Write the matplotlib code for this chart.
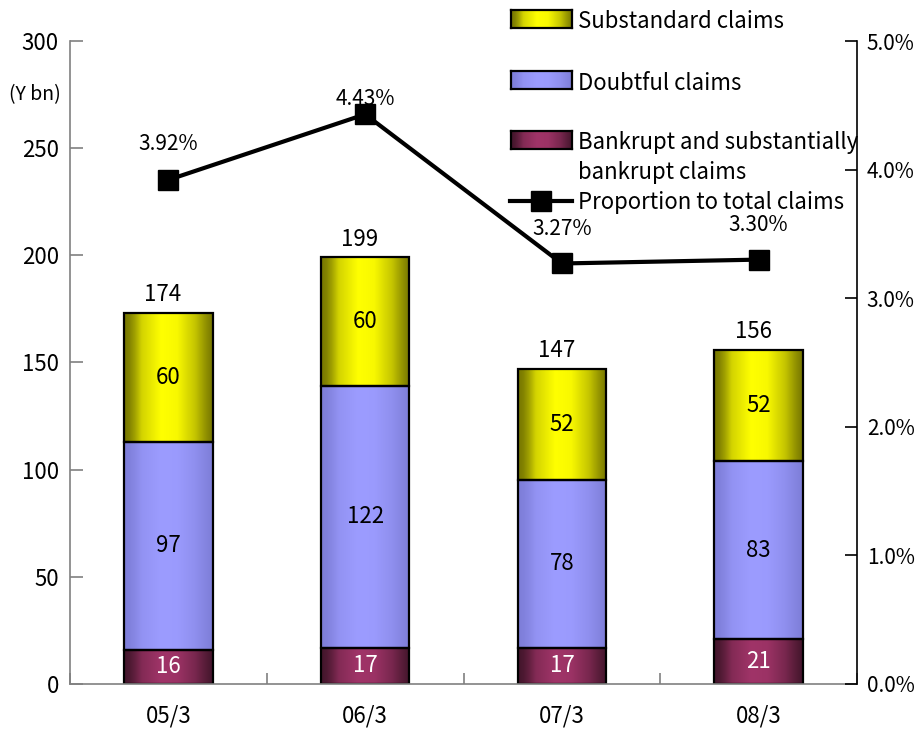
import numpy as np
import matplotlib
matplotlib.use("Agg")
import matplotlib.pyplot as plt
from matplotlib.colors import LinearSegmentedColormap
from matplotlib.lines import Line2D

plt.rcParams['font.family'] = ['Noto Sans CJK JP', 'DejaVu Sans']

periods = ['05/3', '06/3', '07/3', '08/3']
bankrupt = [16, 17, 17, 21]
doubtful = [97, 122, 78, 83]
substandard = [60, 60, 52, 52]
totals = [174, 199, 147, 156]
ratio = [3.92, 4.43, 3.27, 3.30]

# edge colour, centre colour for the horizontal shading of each segment
shades = {
    'sub': ('#6e6e00', '#ffff00'),
    'dbt': ('#7c7cd6', '#9c9cff'),
    'bkr': ('#3e1428', '#a03468'),
}
profile_x = [0.0, 0.06, 0.12, 0.2, 0.42, 0.6, 0.8, 0.92, 1.0]
profile_v = [0.05, 0.15, 0.35, 0.7, 1.0, 0.95, 0.6, 0.25, 0.05]
strip = np.interp(np.linspace(0, 1, 200), profile_x, profile_v)[None, :]


def shade_cmap(key):
    return LinearSegmentedColormap.from_list(key, list(shades[key]))


def fill_gradient(ax, patch, key):
    x, y = patch.get_x(), patch.get_y()
    w, h = patch.get_width(), patch.get_height()
    ax.imshow(strip, cmap=shade_cmap(key), vmin=0, vmax=1, aspect='auto',
              extent=(x, x + w, y, y + h), origin='lower', zorder=1,
              interpolation='bilinear')


fig = plt.figure(figsize=(9.23, 7.34), dpi=100)
ax = fig.add_axes([70 / 923, 1 - 684 / 734, 787 / 923, 643 / 734])

x = np.arange(len(periods))
width = 0.45
bottom2 = np.array(bankrupt)
bottom3 = bottom2 + np.array(doubtful)
layers = [
    (bankrupt, 0, 'bkr', 'white'),
    (doubtful, bottom2, 'dbt', 'black'),
    (substandard, bottom3, 'sub', 'black'),
]
for vals, base, key, tcol in layers:
    bars = ax.bar(x, vals, width, bottom=base, facecolor='none',
                  edgecolor='black', linewidth=1.6, zorder=2)
    for p, v in zip(bars, vals):
        fill_gradient(ax, p, key)
        ax.text(p.get_x() + p.get_width() / 2, p.get_y() + p.get_height() / 2,
                str(v), ha='center', va='center', fontsize=16, color=tcol,
                zorder=3)

for xi, top, t in zip(x, bottom3 + np.array(substandard), totals):
    ax.annotate(str(t), (xi, top), xytext=(-4, 5), textcoords='offset points',
                ha='center', va='bottom', fontsize=16)

ax.set_xlim(-0.5, 3.5)
ax.set_ylim(0, 300)
ax.set_yticks(range(0, 301, 50))
ax.set_xticks(x)
ax.set_xticklabels(periods, fontsize=16)
ax.set_xticks(np.arange(-0.5, 4, 1), minor=True)
ax.tick_params(axis='x', which='major', length=0, pad=15)
ax.tick_params(axis='x', which='minor', length=8, direction='in',
               color='#808080', width=1.2)
ax.tick_params(axis='y', direction='in', length=9, color='#808080',
               width=1.2, labelsize=16, pad=8)
for s in ('top', 'right'):
    ax.spines[s].set_visible(False)
ax.spines['left'].set_color('#808080')
ax.spines['bottom'].set_color('#808080')
ax.spines['left'].set_linewidth(1.2)
ax.spines['bottom'].set_linewidth(1.2)
fig.text(9 / 923, 1 - 95 / 734, '(Y bn)', fontsize=14, va='center')

ax2 = ax.twinx()
ax2.plot(x, ratio, color='black', linewidth=3, marker='s', markersize=15,
         zorder=5)
ax2.set_ylim(0, 5)
ax2.set_yticks(np.arange(0, 5.1, 1))
ax2.set_yticklabels([f'{v:.1f}%' for v in np.arange(0, 5.1, 1)], fontsize=15)
ax2.tick_params(axis='y', direction='in', length=9, width=1.2, pad=7)
for s in ('top', 'left', 'bottom'):
    ax2.spines[s].set_visible(False)
ax2.spines['right'].set_linewidth(1.2)
label_lift = [26, 11, 25, 25]
for xi, r, lift in zip(x, ratio, label_lift):
    ax2.annotate(f'{r:.2f}%', (xi, r), xytext=(0, lift),
                 textcoords='offset points', ha='center', va='center',
                 fontsize=15)

# legend drawn in figure space
legend_rows = [('sub', 'Substandard claims', 19),
               ('dbt', 'Doubtful claims', 80),
               ('bkr', 'Bankrupt and substantially', 140)]
for key, label, ypix in legend_rows:
    sw = fig.add_axes([511 / 923, 1 - (ypix + 9) / 734, 61 / 923, 18 / 734])
    sw.imshow(strip, cmap=shade_cmap(key), vmin=0, vmax=1, aspect='auto',
              interpolation='bilinear')
    sw.set_xticks([])
    sw.set_yticks([])
    for sp in sw.spines.values():
        sp.set_linewidth(1.6)
    fig.text(578 / 923, 1 - (ypix + 3) / 734, label, fontsize=16,
             va='center')
fig.text(578 / 923, 1 - 173 / 734, 'bankrupt claims', fontsize=16,
         va='center')

fig.add_artist(Line2D([510 / 923, 572 / 923], [1 - 201 / 734] * 2,
                      color='black', linewidth=3, transform=fig.transFigure))
fig.add_artist(Line2D([541 / 923], [1 - 201 / 734], color='black',
                      marker='s', markersize=15, linestyle='none',
                      transform=fig.transFigure))
fig.text(578 / 923, 1 - 203 / 734, 'Proportion to total claims', fontsize=16,
         va='center')

fig.savefig('out.png', dpi=100)
